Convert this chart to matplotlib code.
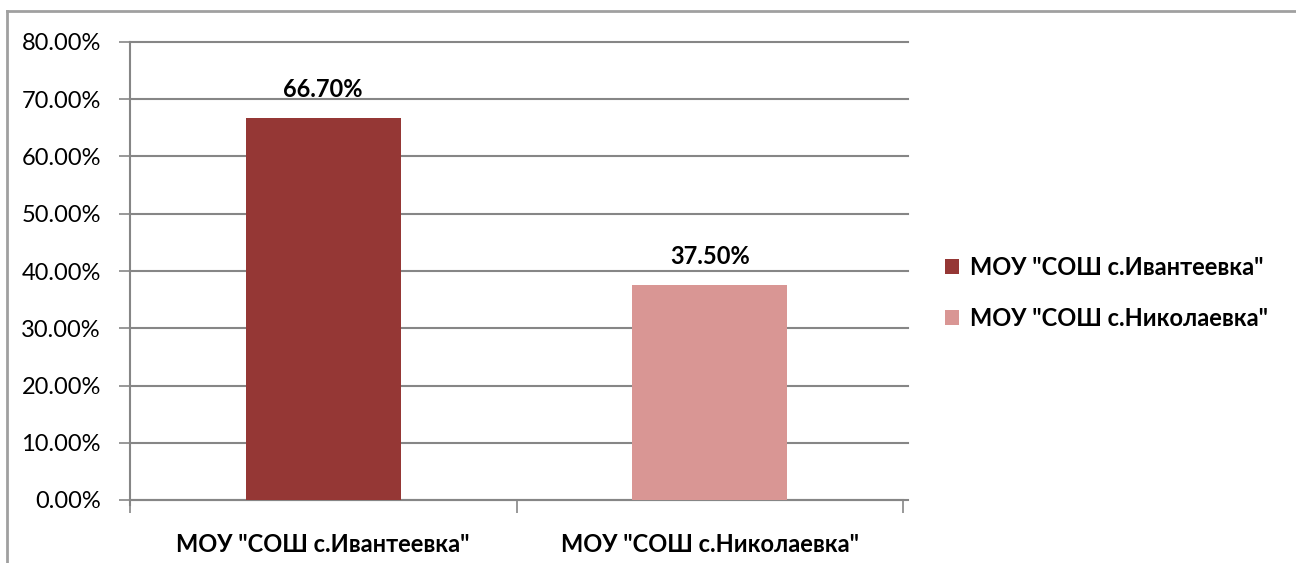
import matplotlib
matplotlib.use("Agg")
import matplotlib.pyplot as plt
from matplotlib.lines import Line2D
from matplotlib.patches import Patch

categories = ['МОУ "СОШ с.Ивантеевка"', 'МОУ "СОШ с.Николаевка"']
values = [66.7, 37.5]
colors = ['#953735', '#D99694']
yticks = [0, 10, 20, 30, 40, 50, 60, 70, 80]

plt.rcParams['font.family'] = ['Lato', 'DejaVu Sans']

W, H = 1296, 563
fig = plt.figure(figsize=(W / 100, H / 100), dpi=100)
ax = fig.add_axes([130 / W, 1 - 500 / H, (903 - 130) / W, (500 - 42) / H])

x = list(range(len(categories)))
bars = ax.bar(x, values, width=0.4, color=colors, zorder=3)
for xi, v in zip(x, values):
    ax.text(xi, v + 3.0, f"{v:.2f}%", ha='center', va='bottom',
            fontsize=17, fontweight='bold', color='black')

ax.set_xlim(-0.5, len(categories) - 0.5)
ax.set_ylim(0, 80)
grid_c = '#868686'
for yt in yticks:
    ax.plot([0, 1.006], [yt, yt], transform=ax.get_yaxis_transform(),
            color=grid_c, lw=1.5, clip_on=False, zorder=1)

ax.set_yticks(yticks)
ax.set_yticklabels([f"{t:.2f}%" for t in yticks], fontsize=17)
ax.tick_params(axis='y', direction='out', length=8, width=1.2, color=grid_c, pad=13)

ax.set_xticks([i - 0.5 for i in range(len(categories) + 1)])
ax.set_xticklabels([])
ax.set_xticks(x, minor=True)
ax.set_xticklabels(categories, minor=True, fontsize=17, fontweight='bold')
ax.tick_params(axis='x', which='major', direction='out', length=9, width=1.2, color=grid_c)
ax.tick_params(axis='x', which='minor', length=0, pad=24)

for s in ['top', 'right']:
    ax.spines[s].set_visible(False)
ax.spines['left'].set_color(grid_c)
ax.spines['left'].set_linewidth(1.5)
ax.spines['bottom'].set_color(grid_c)
ax.spines['bottom'].set_linewidth(1.5)
ax.spines['left'].set_bounds(-0.8, 80)

handles = [Patch(facecolor=c, edgecolor='none') for c in colors]
leg = fig.legend(handles, categories, loc='center left',
                 bbox_to_anchor=(924 / W, 1 - 293 / H), frameon=False,
                 prop={'size': 17, 'weight': 'bold'}, handlelength=0.6,
                 handleheight=0.6, handletextpad=0.45, labelspacing=1.2)

# chart border (left and top)
fig.add_artist(Line2D([7 / W, 7 / W], [0, 1 - 11 / H], color='#A0A0A0', lw=2,
                      transform=fig.transFigure))
fig.add_artist(Line2D([7 / W, 1], [1 - 11 / H, 1 - 11 / H], color='#A0A0A0', lw=2,
                      transform=fig.transFigure))

fig.savefig('out.png', dpi=100)
